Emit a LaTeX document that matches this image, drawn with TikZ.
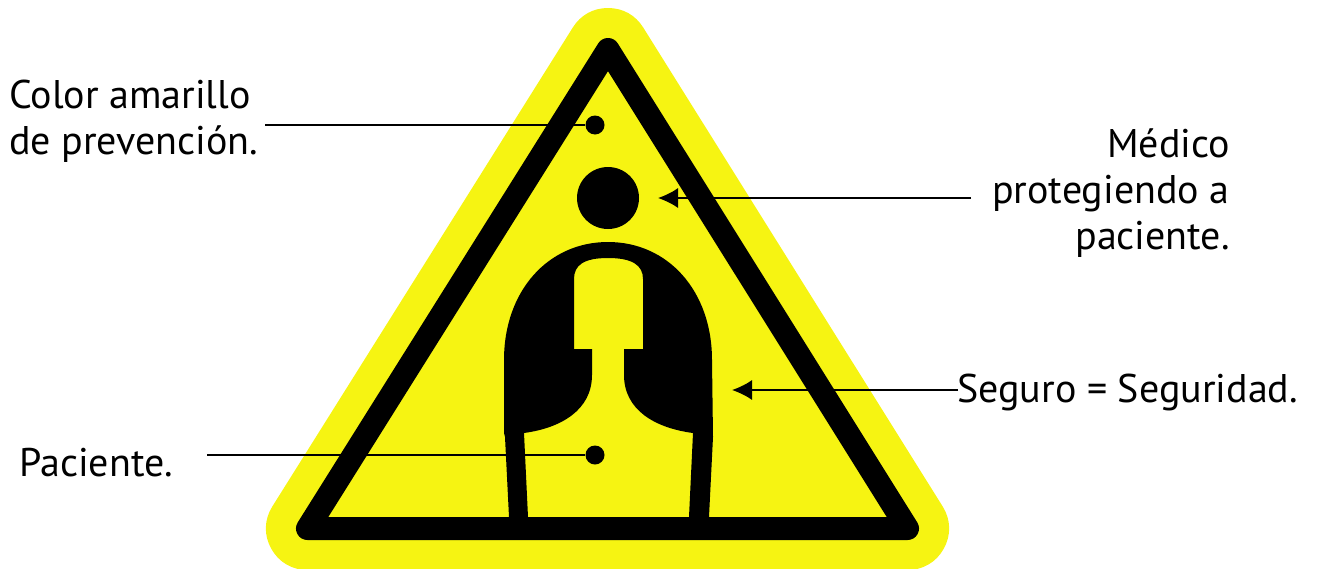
\documentclass[tikz,border=0pt]{standalone}
\usepackage{fontspec}
\setmainfont{PT Sans}
\usetikzlibrary{arrows.meta}
\definecolor{signyellow}{HTML}{F6F412}
\tikzset{
  x=1pt,y=-1pt,
  lab/.style={font=\fontsize{40}{46}\selectfont,inner sep=0pt,text=black},
  leader/.style={draw=black,line width=1.7pt},
  pt/.style={circle,fill=black,minimum size=19pt,inner sep=0pt},
  tip/.style={-{Latex[length=20pt,width=20pt]}},
}
\begin{document}
\begin{tikzpicture}
\useasboundingbox (0,0) rectangle (1318,568);
% sign
\draw[signyellow,fill=signyellow,line width=83pt,line join=round] (608,49.5) -- (907.5,528.5) -- (307.5,528.5) -- cycle;
\draw[black,line width=23pt,line join=round] (608,49.5) -- (907.5,528.5) -- (307.5,528.5) -- cycle;
% head
\node[circle,fill=black,minimum size=62pt,inner sep=0pt] (head) at (608,198) {};
% figure
\fill[black] (505,437) -- (504,433) -- (504,360)
  .. controls (504,291) and (548,242) .. (608,242)
  .. controls (668,242) and (712,291) .. (712,360)
  -- (713,437) -- (709,517) -- (689,517) -- (693,433)
  .. controls (655,428) and (624,410) .. (624,375)
  -- (624,349) -- (643,349) -- (643,279)
  .. controls (643,265) and (632,258) .. (608,258)
  .. controls (584,258) and (574,265) .. (574,279)
  -- (574,349) -- (592,349) -- (592,375)
  .. controls (592,410) and (561,428) .. (524,433)
  -- (528,517) -- (509,517) -- cycle;
% texts
\node[lab,align=left,anchor=north west] (t1) at (9,80) {Color amarillo\\de prevención.};
\node[lab,align=right,anchor=north east] (t2) at (1230,128) {Médico\\protegiendo a\\paciente.};
\node[lab,anchor=base west] (t3) at (957,402) {Seguro = Seguridad.};
\node[lab,anchor=base west] (t4) at (19,476) {Paciente.};
% connectors
\coordinate (c1) at (265,125);
\coordinate (c2) at (971,198);
\coordinate (c3) at (958,390);
\coordinate (c4) at (207,455);
\coordinate (a2) at (658,198);
\coordinate (a3) at (732,390);
\node[pt] (d1) at (595,125) {};
\node[pt] (d4) at (595,455) {};
\draw[leader] (c1) -- (d1);
\draw[leader] (c4) -- (d4);
\draw[leader,tip] (c2) -- (a2);
\draw[leader,tip] (c3) -- (a3);
\end{tikzpicture}
\end{document}
